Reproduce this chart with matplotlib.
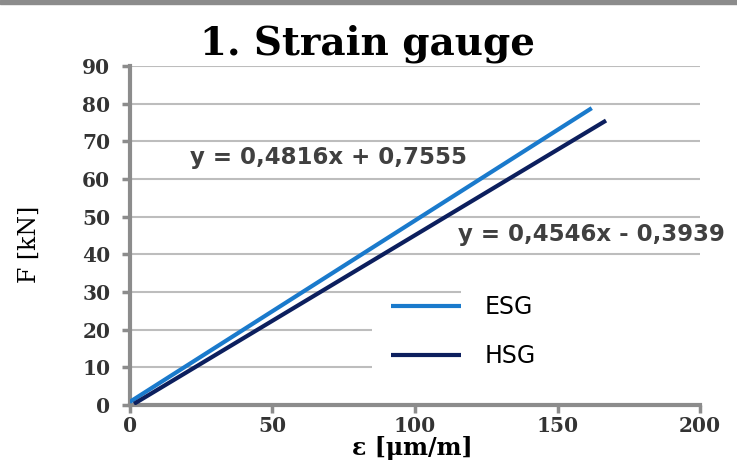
import matplotlib.pyplot as plt
from matplotlib.patches import Rectangle

# strain vs force
esg_eps = [0, 162]
esg_F = [0.8, 78.8]
hsg_eps = [1.5, 167]
hsg_F = [0.3, 75.5]

xticks = [0, 50, 100, 150, 200]
yticks = [0, 10, 20, 30, 40, 50, 60, 70, 80, 90]

eq_esg = 'y = 0,4816x + 0,7555'
eq_hsg = 'y = 0,4546x - 0,3939'

fig = plt.figure(figsize=(7.37, 4.61), dpi=100)
ax = fig.add_axes([0.176, 0.1215, 0.774, 0.7355])

# grey strip at the very top of the screenshot
fig.patches.append(Rectangle((0, 0.991), 1, 0.009, transform=fig.transFigure,
                             color='#8c8c8c', zorder=0))

ax.plot(esg_eps, esg_F, color='#1a7acc', lw=3, label='ESG', zorder=3, solid_capstyle='butt')
ax.plot(hsg_eps, hsg_F, color='#0c1f5e', lw=3, label='HSG', zorder=3, solid_capstyle='butt')

ax.set_xlim(0, 200)
ax.set_ylim(0, 90)
ax.set_xticks(xticks)
ax.set_yticks(yticks)
ax.yaxis.grid(True, color='#bdbdbd', lw=1.5, zorder=0)
ax.set_axisbelow(True)

for s in ['top', 'right']:
    ax.spines[s].set_visible(False)
for s in ['left', 'bottom']:
    ax.spines[s].set_color('#8c8c8c')
    ax.spines[s].set_linewidth(3)
ax.tick_params(direction='out', length=6, width=2.5, color='#8c8c8c')
ax.tick_params(axis='x', pad=2)
ax.tick_params(axis='y', pad=8)
for lab in ax.get_xticklabels() + ax.get_yticklabels():
    lab.set_fontfamily('DejaVu Serif')
    lab.set_fontweight('bold')
    lab.set_fontsize(14.5)
    lab.set_color('#333333')

# white legend area hiding parts of the grid
ax.add_patch(Rectangle((85, 0.3), 115, 28.5, facecolor='white', edgecolor='none', zorder=1))
ax.add_patch(Rectangle((116, 28.5), 84, 3, facecolor='white', edgecolor='none', zorder=1))

ax.legend(loc='upper left', bbox_to_anchor=(0.42, 0.387), frameon=False,
          prop={'family': 'DejaVu Sans', 'size': 17}, handlelength=3.0,
          handletextpad=1.0, labelspacing=1.05)

ax.text(21, 65.6, eq_esg, fontsize=16.5, fontweight='bold', color='#404040',
        family='DejaVu Sans', va='center', ha='left')
ax.text(115, 45.2, eq_hsg, fontsize=16.5, fontweight='bold', color='#404040',
        family='DejaVu Sans', va='center', ha='left', clip_on=False)

fig.text(0.498, 0.905, '1. Strain gauge', fontsize=28, fontweight='bold',
         family='DejaVu Serif', ha='center', va='center')
fig.text(0.56, 0.028, 'ε [μm/m]', fontsize=17, fontweight='bold',
         family='DejaVu Serif', ha='center', va='center')
fig.text(0.04, 0.47, 'F [kN]', fontsize=17, rotation=90,
         family='DejaVu Serif', ha='center', va='center')

plt.savefig('out.png', dpi=100)
